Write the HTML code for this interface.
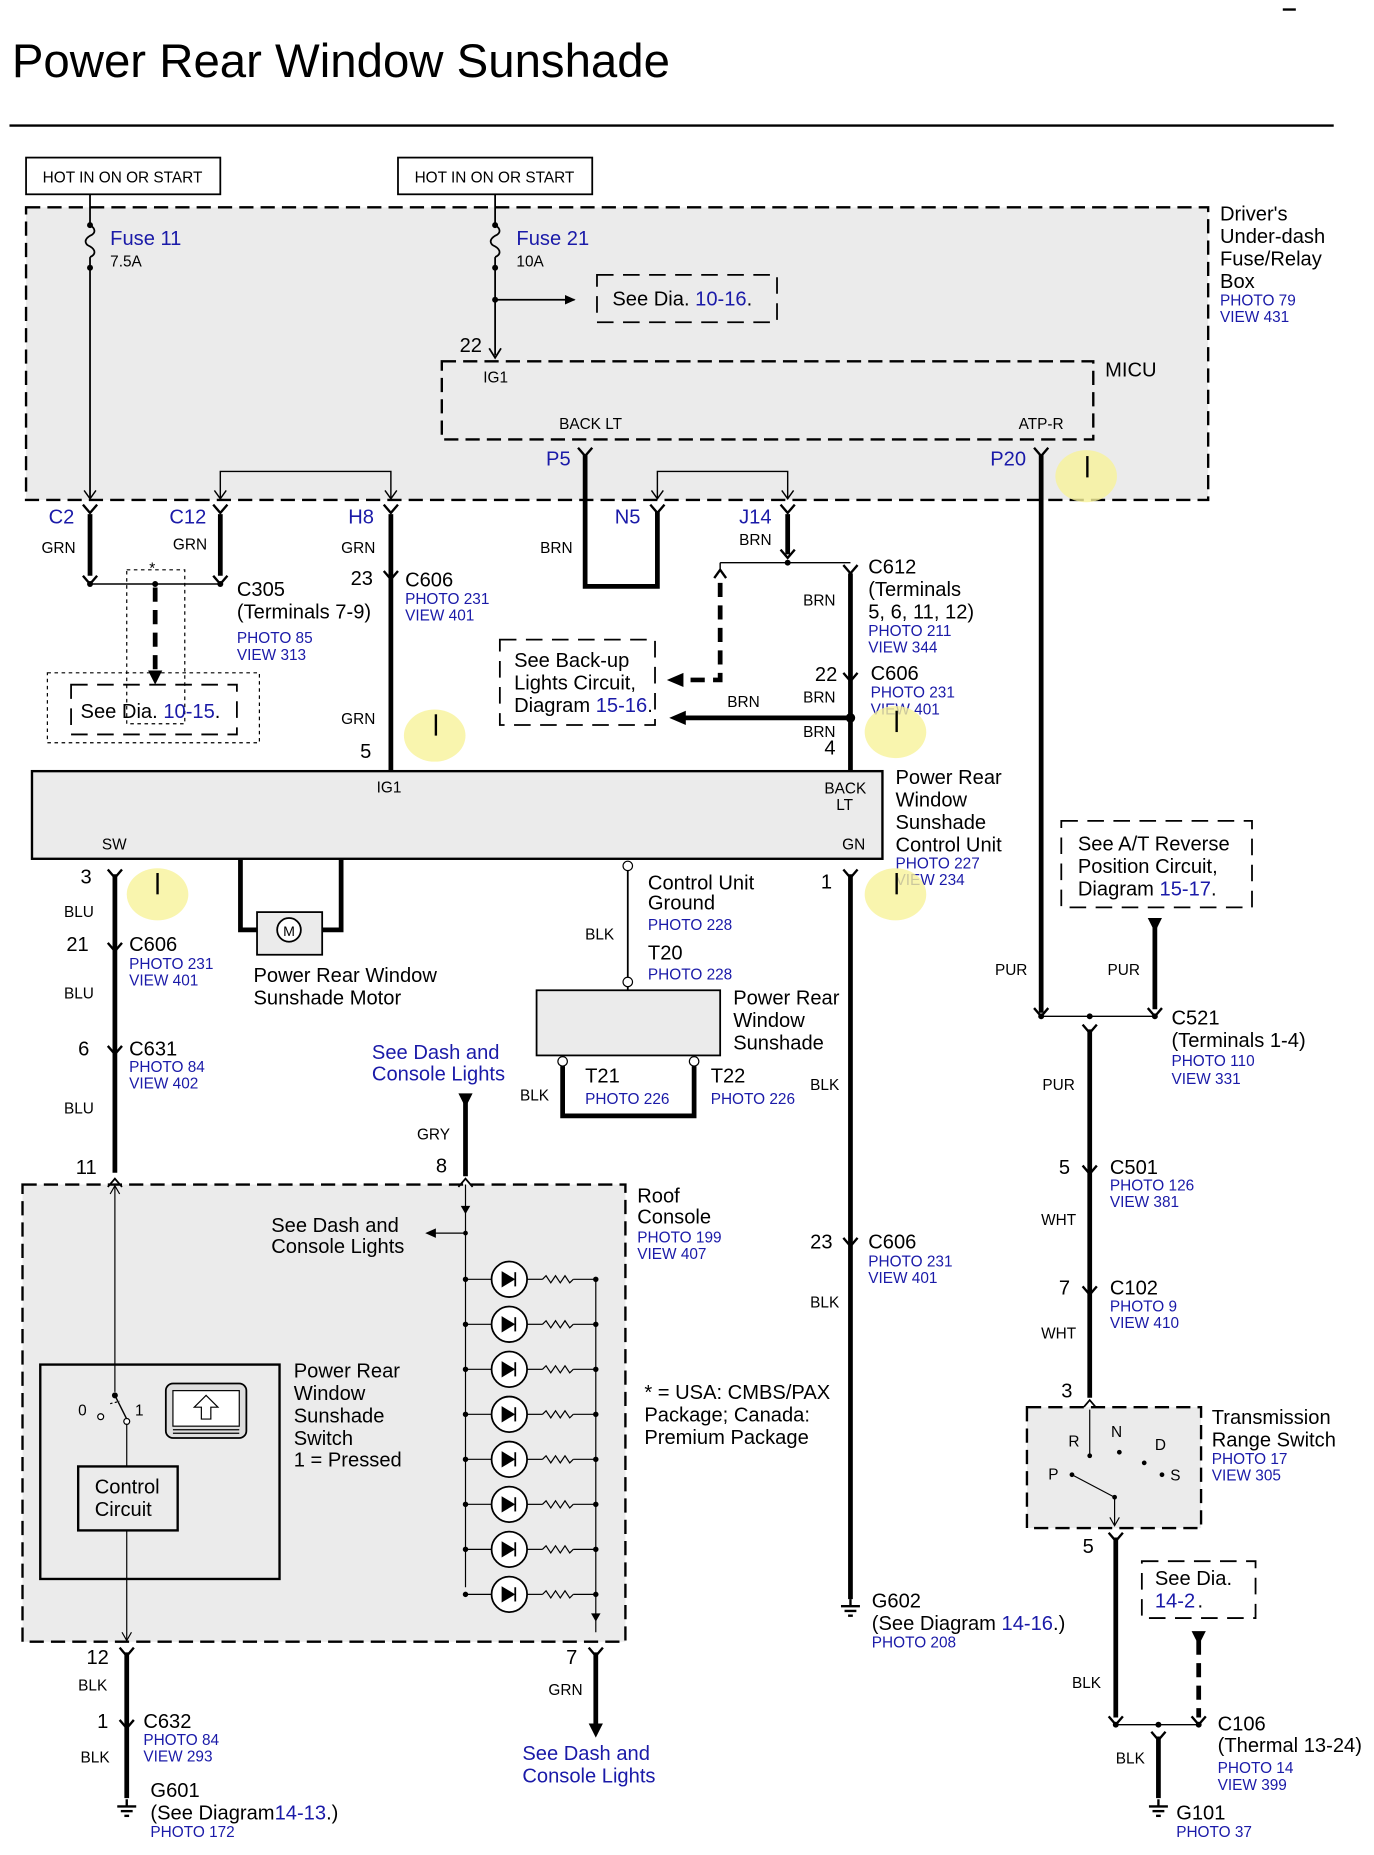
<!DOCTYPE html>
<html><head><meta charset="utf-8"><style>
html,body{margin:0;padding:0;background:#fff}
svg{display:block}
text{font-family:"Liberation Sans",sans-serif;fill:#000}
.b{fill:#1a1aa8}
.s{font-size:13px}
.m{font-size:17px}
</style></head><body>
<svg width="1374" height="1855" viewBox="0 0 1160 1566" xmlns="http://www.w3.org/2000/svg">
<defs>
<path id="ch" d="M-6,-7 L0,0 L6,-7" fill="none" stroke="#000" stroke-width="2"/>
<path id="cu" d="M-6,-4 L0,3 L6,-4" fill="none" stroke="#000" stroke-width="2"/>
<g id="gnd"><line x1="0" y1="0" x2="0" y2="-6" stroke="#000" stroke-width="2"/><line x1="-8" y1="0" x2="8" y2="0" stroke="#000" stroke-width="2"/><line x1="-5" y1="4" x2="5" y2="4" stroke="#000" stroke-width="2"/><line x1="-2" y1="8" x2="2" y2="8" stroke="#000" stroke-width="2"/></g>
</defs>
<line x1="1083" y1="8" x2="1094" y2="8" stroke="#000" stroke-width="2"/>
<text x="10" y="65" font-size="40">Power Rear Window Sunshade</text>
<line x1="8" y1="106" x2="1126" y2="106" stroke="#000" stroke-width="2"/>
<rect x="22" y="133" width="164" height="31" fill="none" stroke="#000" stroke-width="1.5"/>
<text x="36" y="154" font-size="13">HOT IN ON OR START</text>
<rect x="336" y="133" width="164" height="31" fill="none" stroke="#000" stroke-width="1.5"/>
<text x="350" y="154" font-size="13">HOT IN ON OR START</text>
<rect x="22" y="175" width="998" height="247" fill="#ebebeb" stroke="#000" stroke-width="2" stroke-dasharray="12,6"/>
<text x="1030" y="186" class="m">Driver's</text><text x="1030" y="205" class="m">Under-dash</text><text x="1030" y="224" class="m">Fuse/Relay</text><text x="1030" y="243" class="m">Box</text>
<text x="1030" y="258" class="s b">PHOTO 79</text><text x="1030" y="272" class="s b">VIEW 431</text>
<line x1="76" y1="164" x2="76" y2="190" stroke="#000" stroke-width="1.5"/>
<path d="M76,190 c5,3 5,7 0,9 c-5,3 -5,7 0,9 c5,3 5,7 0,9" fill="none" stroke="#000" stroke-width="1.5"/>
<line x1="76" y1="217" x2="76" y2="420" stroke="#000" stroke-width="1.5"/>
<circle cx="76" cy="190" r="2.5"/><circle cx="76" cy="226" r="2.5"/>
<text x="93" y="207" class="b" font-size="17">Fuse 11</text><text x="93" y="225" class="s">7.5A</text>
<line x1="418" y1="164" x2="418" y2="190" stroke="#000" stroke-width="1.5"/>
<path d="M418,190 c5,3 5,7 0,9 c-5,3 -5,7 0,9 c5,3 5,7 0,9" fill="none" stroke="#000" stroke-width="1.5"/>
<line x1="418" y1="217" x2="418" y2="300" stroke="#000" stroke-width="1.5"/>
<path d="M413,294 L418,302 L423,294" fill="none" stroke="#000" stroke-width="1.5"/>
<circle cx="418" cy="190" r="2.5"/><circle cx="418" cy="226" r="2.5"/><circle cx="418" cy="253" r="2.5"/>
<line x1="418" y1="253" x2="485" y2="253" stroke="#000" stroke-width="1.5"/>
<path d="M477,249 L486,253 L477,257 Z"/>
<text x="436" y="207" class="b" font-size="17">Fuse 21</text><text x="436" y="225" class="s">10A</text>
<rect x="504" y="232" width="152" height="40" fill="none" stroke="#000" stroke-width="1.5" stroke-dasharray="14,8"/>
<text x="517" y="258" class="m">See  Dia. <tspan class="b">10-16</tspan>.</text>
<text x="388" y="297" class="m">22</text>
<rect x="373" y="305" width="550" height="66" fill="#ebebeb" stroke="#000" stroke-width="2" stroke-dasharray="12,6"/>
<text x="933" y="318" class="m">MICU</text>
<text x="408" y="323" class="s">IG1</text>
<text x="472" y="362" class="s">BACK LT</text><text x="860" y="362" class="s">ATP-R</text>
<polyline points="186,420 186,398 330,398 330,420" fill="none" stroke="#000" stroke-width="1.2"/>
<path d="M181,414 L186,421 L191,414 M325,414 L330,421 L335,414" fill="none" stroke="#000" stroke-width="1.2"/>
<polyline points="555,420 555,398 665,398 665,420" fill="none" stroke="#000" stroke-width="1.2"/>
<path d="M550,414 L555,421 L560,414 M660,414 L665,421 L670,414" fill="none" stroke="#000" stroke-width="1.2"/>
<path d="M71,414 L76,421 L81,414" fill="none" stroke="#000" stroke-width="1.2"/>
<text x="461" y="393" class="b m">P5</text><text x="836" y="393" class="b m">P20</text>
<use href="#cu" x="494" y="382"/><use href="#cu" x="879" y="382"/>
<polyline points="494,384 494,495 555,495 555,432" fill="none" stroke="#000" stroke-width="4"/>
<line x1="879" y1="384" x2="879" y2="855" stroke="#000" stroke-width="4"/>
<text x="41" y="442" class="b m">C2</text><text x="143" y="442" class="b m">C12</text><text x="294" y="442" class="b m">H8</text>
<text x="519" y="442" class="b m">N5</text><text x="624" y="442" class="b m">J14</text>
<use href="#ch" x="76" y="433"/><use href="#ch" x="186" y="433"/><use href="#ch" x="330" y="433"/><use href="#ch" x="555" y="433"/><use href="#ch" x="665" y="433"/>
<text x="35" y="467" class="s">GRN</text><text x="146" y="464" class="s">GRN</text><text x="288" y="467" class="s">GRN</text><text x="456" y="467" class="s">BRN</text><text x="624" y="460" class="s">BRN</text>
<line x1="76" y1="434" x2="76" y2="486" stroke="#000" stroke-width="4"/>
<line x1="186" y1="434" x2="186" y2="486" stroke="#000" stroke-width="4"/>
<use href="#ch" x="76" y="493"/><use href="#ch" x="186" y="493"/>
<line x1="76" y1="493" x2="186" y2="493" stroke="#000" stroke-width="1.2"/>
<circle cx="76" cy="493" r="2.5"/><circle cx="186" cy="493" r="2.5"/><circle cx="131" cy="493" r="2.5"/>
<text x="126" y="484" class="s">*</text>
<rect x="107" y="481" width="49" height="130" fill="none" stroke="#000" stroke-width="1" stroke-dasharray="3,3"/>
<line x1="131" y1="496" x2="131" y2="570" stroke="#000" stroke-width="4" stroke-dasharray="12,7"/>
<path d="M125,566 L131,578 L137,566 Z"/>
<rect x="40" y="568" width="179" height="59" fill="none" stroke="#000" stroke-width="1" stroke-dasharray="3,3"/>
<rect x="60" y="578" width="140" height="42" fill="none" stroke="#000" stroke-width="1.5" stroke-dasharray="14,8"/>
<text x="68" y="606" class="m">See  Dia. <tspan class="b">10-15</tspan>.</text>
<text x="200" y="503" class="m">C305</text><text x="200" y="522" class="m">(Terminals 7-9)</text>
<text x="200" y="543" class="s b">PHOTO 85</text><text x="200" y="557" class="s b">VIEW 313</text>
<line x1="330" y1="434" x2="330" y2="650" stroke="#000" stroke-width="4"/>
<use href="#ch" x="330" y="489"/>
<text x="296" y="494" class="m">23</text>
<text x="342" y="495" class="m">C606</text><text x="342" y="510" class="s b">PHOTO 231</text><text x="342" y="524" class="s b">VIEW 401</text>
<text x="288" y="611" class="s">GRN</text><text x="304" y="640" class="m">5</text>
<ellipse cx="367" cy="621" rx="26" ry="22" fill="#f7f39a" opacity="0.8"/><line x1="368" y1="603" x2="368" y2="621" stroke="#000" stroke-width="2"/>
<line x1="665" y1="434" x2="665" y2="468" stroke="#000" stroke-width="4"/>
<use href="#cu" x="665" y="468"/>
<line x1="608" y1="475" x2="718" y2="475" stroke="#000" stroke-width="1.2"/>
<circle cx="665" cy="475" r="2.5"/>
<path d="M603,488 L608,481 L613,488" fill="none" stroke="#000" stroke-width="2"/>
<line x1="608" y1="475" x2="608" y2="481" stroke="#000" stroke-width="1.2"/>
<polyline points="608,492 608,574 575,574" fill="none" stroke="#000" stroke-width="4" stroke-dasharray="12,7"/>
<path d="M577,568 L563,574 L577,580 Z"/>
<use href="#ch" x="718" y="484"/>
<line x1="718" y1="484" x2="718" y2="650" stroke="#000" stroke-width="4"/>
<text x="733" y="484" class="m">C612</text><text x="733" y="503" class="m">(Terminals</text><text x="733" y="522" class="m">5, 6, 11, 12)</text>
<text x="733" y="537" class="s b">PHOTO 211</text><text x="733" y="551" class="s b">VIEW 344</text>
<text x="678" y="511" class="s">BRN</text>
<use href="#ch" x="718" y="575"/><text x="688" y="575" class="m">22</text>
<text x="735" y="574" class="m">C606</text><text x="735" y="589" class="s b">PHOTO 231</text><text x="735" y="603" class="s b">VIEW 401</text>
<text x="678" y="593" class="s">BRN</text><text x="678" y="622" class="s">BRN</text><text x="614" y="597" class="s">BRN</text>
<circle cx="718" cy="606" r="4"/>
<line x1="718" y1="606" x2="578" y2="606" stroke="#000" stroke-width="4"/>
<path d="M579,600 L565,606 L579,612 Z"/>
<text x="696" y="637" class="m">4</text>
<rect x="422" y="540" width="131" height="72" fill="none" stroke="#000" stroke-width="1.5" stroke-dasharray="14,8"/>
<text x="434" y="563" class="m">See Back-up</text><text x="434" y="582" class="m">Lights Circuit,</text><text x="434" y="601" class="m">Diagram <tspan class="b">15-16</tspan>.</text>
<ellipse cx="756" cy="618" rx="26" ry="22" fill="#f7f39a" opacity="0.8"/><line x1="757" y1="600" x2="757" y2="618" stroke="#000" stroke-width="2"/>
<ellipse cx="917" cy="402" rx="26" ry="22" fill="#f7f39a" opacity="0.8"/><line x1="918" y1="385" x2="918" y2="403" stroke="#000" stroke-width="2"/>
<rect x="27" y="651" width="718" height="74" fill="#ebebeb" stroke="#000" stroke-width="2"/>
<text x="318" y="669" class="s">IG1</text><text x="696" y="670" class="s">BACK</text><text x="706" y="684" class="s">LT</text>
<text x="86" y="717" class="s">SW</text><text x="711" y="717" class="s">GN</text>
<text x="756" y="662" class="m">Power Rear</text><text x="756" y="681" class="m">Window</text><text x="756" y="700" class="m">Sunshade</text><text x="756" y="719" class="m">Control Unit</text>
<text x="756" y="733" class="s b">PHOTO 227</text><text x="756" y="747" class="s b">VIEW 234</text>
<use href="#cu" x="97" y="738"/>
<line x1="97" y1="738" x2="97" y2="990" stroke="#000" stroke-width="4"/>
<text x="68" y="746" class="m">3</text><text x="54" y="774" class="s">BLU</text>
<ellipse cx="133" cy="755" rx="26" ry="22" fill="#f7f39a" opacity="0.8"/><line x1="133" y1="737" x2="133" y2="755" stroke="#000" stroke-width="2"/>
<use href="#ch" x="97" y="803"/><text x="56" y="803" class="m">21</text>
<text x="109" y="803" class="m">C606</text><text x="109" y="818" class="s b">PHOTO 231</text><text x="109" y="832" class="s b">VIEW 401</text>
<text x="54" y="843" class="s">BLU</text>
<use href="#ch" x="97" y="890"/><text x="66" y="891" class="m">6</text>
<text x="109" y="891" class="m">C631</text><text x="109" y="905" class="s b">PHOTO 84</text><text x="109" y="919" class="s b">VIEW 402</text>
<text x="54" y="940" class="s">BLU</text>
<text x="64" y="991" class="m">11</text>
<polyline points="203,725 203,785 217,785" fill="none" stroke="#000" stroke-width="4"/>
<polyline points="288,725 288,785 272,785" fill="none" stroke="#000" stroke-width="4"/>
<rect x="217" y="770" width="55" height="36" fill="#ebebeb" stroke="#000" stroke-width="1.5"/>
<circle cx="244" cy="785" r="10" fill="#fff" stroke="#000" stroke-width="1.5"/>
<text x="239" y="790" font-size="12">M</text>
<text x="214" y="829" class="m">Power Rear Window</text><text x="214" y="848" class="m">Sunshade Motor</text>
<circle cx="530" cy="731" r="4" fill="#fff" stroke="#000"/>
<line x1="530" y1="735" x2="530" y2="825" stroke="#000" stroke-width="1.5"/>
<circle cx="530" cy="829" r="4" fill="#fff" stroke="#000"/>
<line x1="530" y1="833" x2="530" y2="836" stroke="#000" stroke-width="1.5"/>
<text x="494" y="793" class="s">BLK</text>
<text x="547" y="751" class="m">Control Unit</text><text x="547" y="768" class="m">Ground</text><text x="547" y="785" class="s b">PHOTO 228</text>
<text x="547" y="810" class="m">T20</text><text x="547" y="827" class="s b">PHOTO 228</text>
<rect x="453" y="836" width="155" height="55" fill="#ebebeb" stroke="#000" stroke-width="1.5"/>
<text x="619" y="848" class="m">Power Rear</text><text x="619" y="867" class="m">Window</text><text x="619" y="886" class="m">Sunshade</text>
<circle cx="475" cy="896" r="4" fill="#fff" stroke="#000"/><circle cx="586" cy="896" r="4" fill="#fff" stroke="#000"/>
<polyline points="475,900 475,942 586,942 586,900" fill="none" stroke="#000" stroke-width="4"/>
<text x="439" y="929" class="s">BLK</text>
<text x="494" y="914" class="m">T21</text><text x="494" y="932" class="s b">PHOTO 226</text>
<text x="600" y="914" class="m">T22</text><text x="600" y="932" class="s b">PHOTO 226</text>
<use href="#cu" x="718" y="738"/>
<line x1="718" y1="738" x2="718" y2="1350" stroke="#000" stroke-width="4"/>
<text x="693" y="750" class="m">1</text>
<ellipse cx="756" cy="755" rx="26" ry="22" fill="#f7f39a" opacity="0.8"/><line x1="757" y1="737" x2="757" y2="755" stroke="#000" stroke-width="2"/>
<text x="684" y="920" class="s">BLK</text>
<use href="#ch" x="718" y="1052"/><text x="684" y="1054" class="m">23</text>
<text x="733" y="1054" class="m">C606</text><text x="733" y="1069" class="s b">PHOTO 231</text><text x="733" y="1083" class="s b">VIEW 401</text>
<text x="684" y="1104" class="s">BLK</text>
<use href="#gnd" x="718" y="1356"/>
<text x="736" y="1357" class="m">G602</text><text x="736" y="1376" class="m">(See Diagram <tspan class="b">14-16</tspan>.)</text><text x="736" y="1391" class="s b">PHOTO 208</text>
<text x="314" y="894" class="b m">See Dash and</text><text x="314" y="912" class="b m">Console Lights</text>
<path d="M387,923 L399,923 L393,935 Z"/>
<line x1="393" y1="930" x2="393" y2="993" stroke="#000" stroke-width="4"/>
<text x="352" y="962" class="s">GRY</text><text x="368" y="990" class="m">8</text>
<rect x="19" y="1000" width="509" height="386" fill="#ebebeb" stroke="#000" stroke-width="2" stroke-dasharray="12,6"/>
<path d="M91,1002 L97,995 L103,1002 M387,1002 L393,995 L399,1002" fill="none" stroke="#000" stroke-width="1.5"/>
<text x="538" y="1015" class="m">Roof</text><text x="538" y="1033" class="m">Console</text>
<text x="538" y="1049" class="s b">PHOTO 199</text><text x="538" y="1063" class="s b">VIEW 407</text>
<line x1="97" y1="1000" x2="97" y2="1175" stroke="#000" stroke-width="1"/>
<path d="M93,1008 L97,1001 L101,1008" fill="none" stroke="#000"/>
<line x1="393" y1="1000" x2="393" y2="1340" stroke="#000" stroke-width="1"/>
<path d="M389,1018 L393,1025 L397,1018 Z"/>
<circle cx="393" cy="1041" r="2"/>
<line x1="393" y1="1041" x2="362" y2="1041" stroke="#000"/>
<path d="M368,1037 L359,1041 L368,1045 Z"/>
<text x="229" y="1040" class="m">See Dash and</text><text x="229" y="1058" class="m">Console Lights</text>
<line x1="503" y1="1080" x2="503" y2="1378" stroke="#000" stroke-width="1"/>
<path d="M499,1362 L503,1369 L507,1362 Z"/>
<g stroke="#000" fill="none">
<g id="bulb"><line x1="393" y1="1080" x2="415" y2="1080"/><circle cx="430" cy="1080" r="15" fill="#fff" stroke-width="1.5"/><path d="M424,1074 L424,1086 L434,1080 Z" fill="#000"/><line x1="435" y1="1074" x2="435" y2="1086" stroke-width="1.5"/><line x1="445" y1="1080" x2="458" y2="1080"/><path d="M458,1080 l3,-3 l4,6 l4,-6 l4,6 l4,-6 l4,6 l3,-3"/><line x1="484" y1="1080" x2="503" y2="1080"/><circle cx="393" cy="1080" r="1.8" fill="#000"/><circle cx="503" cy="1080" r="1.8" fill="#000"/></g>
<use href="#bulb" y="38"/><use href="#bulb" y="76"/><use href="#bulb" y="114"/><use href="#bulb" y="152"/><use href="#bulb" y="190"/><use href="#bulb" y="228"/><use href="#bulb" y="266"/>
</g>
<rect x="34" y="1152" width="202" height="181" fill="none" stroke="#000" stroke-width="2"/>
<text x="248" y="1163" class="m">Power Rear</text><text x="248" y="1182" class="m">Window</text><text x="248" y="1201" class="m">Sunshade</text><text x="248" y="1220" class="m">Switch</text><text x="248" y="1238" class="m">1 = Pressed</text>
<text x="66" y="1195" class="s">0</text><text x="114" y="1195" class="s">1</text>
<circle cx="97" cy="1178" r="2.5"/><circle cx="85" cy="1196" r="2.5" fill="#fff" stroke="#000"/><circle cx="107" cy="1200" r="2.5" fill="#fff" stroke="#000"/>
<line x1="97" y1="1178" x2="107" y2="1198" stroke="#000" stroke-width="1.2"/>
<line x1="107" y1="1202" x2="107" y2="1238" stroke="#000" stroke-width="1"/>
<line x1="93" y1="1185" x2="101" y2="1183" stroke="#000" stroke-dasharray="2,2"/>
<rect x="140" y="1168" width="68" height="46" rx="6" fill="#ddd" stroke="#000" stroke-width="1.5"/>
<rect x="146" y="1174" width="56" height="30" fill="#fff" stroke="#000"/>
<path d="M174,1178 L184,1188 L178,1188 L178,1198 L170,1198 L170,1188 L164,1188 Z" fill="#fff" stroke="#000"/>
<line x1="146" y1="1207" x2="202" y2="1207" stroke="#000"/><line x1="146" y1="1210" x2="202" y2="1210" stroke="#000"/>
<rect x="66" y="1238" width="84" height="54" fill="none" stroke="#000" stroke-width="2"/>
<text x="80" y="1261" class="m">Control</text><text x="80" y="1280" class="m">Circuit</text>
<line x1="107" y1="1292" x2="107" y2="1386" stroke="#000" stroke-width="1"/>
<path d="M103,1378 L107,1385 L111,1378" fill="none" stroke="#000"/>
<use href="#cu" x="107" y="1395"/><line x1="107" y1="1395" x2="107" y2="1518" stroke="#000" stroke-width="4"/>
<text x="73" y="1405" class="m">12</text><text x="66" y="1427" class="s">BLK</text>
<use href="#ch" x="107" y="1459"/><text x="82" y="1459" class="m">1</text>
<text x="121" y="1459" class="m">C632</text><text x="121" y="1473" class="s b">PHOTO 84</text><text x="121" y="1487" class="s b">VIEW 293</text>
<text x="68" y="1488" class="s">BLK</text>
<use href="#gnd" x="107" y="1525"/>
<text x="127" y="1517" class="m">G601</text><text x="127" y="1536" class="m">(See Diagram<tspan class="b">14-13</tspan>.)</text><text x="127" y="1551" class="s b">PHOTO 172</text>
<use href="#cu" x="503" y="1395"/><line x1="503" y1="1395" x2="503" y2="1458" stroke="#000" stroke-width="4"/>
<path d="M497,1455 L509,1455 L503,1467 Z"/>
<text x="478" y="1405" class="m">7</text><text x="463" y="1431" class="s">GRN</text>
<text x="441" y="1486" class="b m">See Dash and</text><text x="441" y="1505" class="b m">Console Lights</text>
<text x="544" y="1181" class="m">* = USA: CMBS/PAX</text><text x="544" y="1200" class="m">Package; Canada:</text><text x="544" y="1219" class="m">Premium Package</text>
<rect x="896" y="693" width="161" height="73" fill="none" stroke="#000" stroke-width="1.5" stroke-dasharray="14,8"/>
<text x="910" y="718" class="m">See A/T Reverse</text><text x="910" y="737" class="m">Position Circuit,</text><text x="910" y="756" class="m">Diagram  <tspan class="b">15-17</tspan>.</text>
<path d="M969,775 L981,775 L975,787 Z"/>
<line x1="975" y1="780" x2="975" y2="852" stroke="#000" stroke-width="4"/>
<text x="840" y="823" class="s">PUR</text><text x="935" y="823" class="s">PUR</text>
<use href="#ch" x="879" y="858"/><use href="#ch" x="975" y="858"/>
<line x1="879" y1="858" x2="975" y2="858" stroke="#000" stroke-width="1.2"/>
<circle cx="879" cy="858" r="2.5"/><circle cx="975" cy="858" r="2.5"/><circle cx="920" cy="858" r="2.5"/>
<use href="#cu" x="920" y="869"/>
<line x1="920" y1="869" x2="920" y2="1180" stroke="#000" stroke-width="4"/>
<text x="989" y="865" class="m">C521</text><text x="989" y="884" class="m">(Terminals 1-4)</text>
<text x="989" y="900" class="s b">PHOTO 110</text><text x="989" y="915" class="s b">VIEW 331</text>
<text x="880" y="920" class="s">PUR</text>
<use href="#ch" x="920" y="991"/><text x="894" y="991" class="m">5</text>
<text x="937" y="991" class="m">C501</text><text x="937" y="1005" class="s b">PHOTO 126</text><text x="937" y="1019" class="s b">VIEW 381</text>
<text x="879" y="1034" class="s">WHT</text>
<use href="#ch" x="920" y="1093"/><text x="894" y="1093" class="m">7</text>
<text x="937" y="1093" class="m">C102</text><text x="937" y="1107" class="s b">PHOTO 9</text><text x="937" y="1121" class="s b">VIEW 410</text>
<text x="879" y="1130" class="s">WHT</text>
<text x="896" y="1180" class="m">3</text>
<path d="M914,1189 L920,1182 L926,1189" fill="none" stroke="#000" stroke-width="1.5"/>
<rect x="867" y="1188" width="147" height="102" fill="#ebebeb" stroke="#000" stroke-width="2" stroke-dasharray="12,6"/>
<line x1="920" y1="1190" x2="920" y2="1228" stroke="#000"/>
<text x="902" y="1221" class="s">R</text><text x="938" y="1213" class="s">N</text><text x="975" y="1224" class="s">D</text><text x="885" y="1249" class="s">P</text><text x="988" y="1250" class="s">S</text>
<circle cx="920" cy="1229" r="2"/><circle cx="945" cy="1226" r="2"/><circle cx="966" cy="1235" r="2"/><circle cx="981" cy="1245" r="2"/><circle cx="905" cy="1245" r="2"/>
<path d="M905,1245 L941,1264" stroke="#000" fill="none"/>
<circle cx="941" cy="1264" r="2"/>
<line x1="941" y1="1264" x2="941" y2="1288" stroke="#000"/>
<path d="M937,1281 L941,1288 L945,1281" fill="none" stroke="#000"/>
<text x="1023" y="1202" class="m">Transmission</text><text x="1023" y="1221" class="m">Range Switch</text>
<text x="1023" y="1236" class="s b">PHOTO 17</text><text x="1023" y="1250" class="s b">VIEW 305</text>
<use href="#cu" x="942" y="1298"/><text x="914" y="1311" class="m">5</text>
<line x1="942" y1="1298" x2="942" y2="1450" stroke="#000" stroke-width="4"/>
<rect x="964" y="1318" width="96" height="48" fill="none" stroke="#000" stroke-width="1.5" stroke-dasharray="14,8"/>
<text x="975" y="1338" class="m">See  Dia.</text><text x="975" y="1357" class="b m">14-2</text><text x="1011" y="1357" class="m">.</text>
<path d="M1006,1377 L1018,1377 L1012,1389 Z"/>
<line x1="1012" y1="1385" x2="1012" y2="1450" stroke="#000" stroke-width="4" stroke-dasharray="12,7"/>
<text x="905" y="1425" class="s">BLK</text>
<use href="#ch" x="942" y="1456"/><use href="#ch" x="1012" y="1456"/>
<line x1="942" y1="1456" x2="1012" y2="1456" stroke="#000" stroke-width="1.2"/>
<circle cx="942" cy="1456" r="2.5"/><circle cx="1012" cy="1456" r="2.5"/><circle cx="978" cy="1456" r="2.5"/>
<use href="#cu" x="978" y="1466"/><line x1="978" y1="1466" x2="978" y2="1518" stroke="#000" stroke-width="4"/>
<text x="942" y="1489" class="s">BLK</text>
<use href="#gnd" x="978" y="1525"/>
<text x="1028" y="1461" class="m">C106</text><text x="1028" y="1479" class="m">(Thermal 13-24)</text>
<text x="1028" y="1497" class="s b">PHOTO 14</text><text x="1028" y="1511" class="s b">VIEW 399</text>
<text x="993" y="1536" class="m">G101</text><text x="993" y="1551" class="s b">PHOTO 37</text>
</svg>
</body></html>
